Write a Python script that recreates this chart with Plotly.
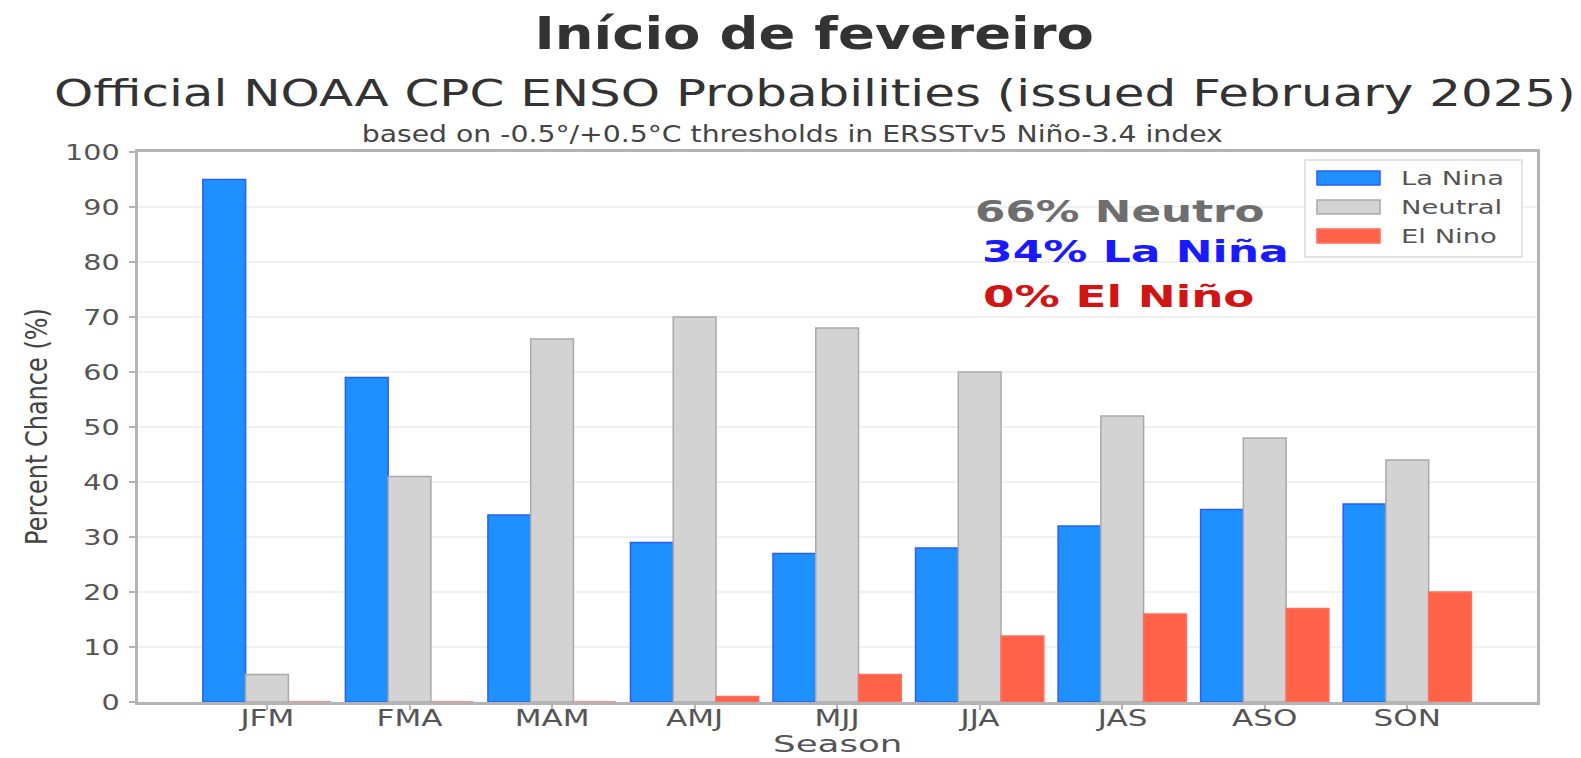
import json
import plotly.graph_objects as go

seasons = ["JFM", "FMA", "MAM", "AMJ", "MJJ", "JJA", "JAS", "ASO", "SON"]
la_nina = [95, 59, 34, 29, 27, 28, 32, 35, 36]
neutral = [5, 41, 66, 70, 68, 60, 52, 48, 44]
el_nino = [0, 0, 0, 1, 5, 12, 16, 17, 20]
series_names = ["La Nina", "Neutral", "El Nino"]
y_ticks = [0, 10, 20, 30, 40, 50, 60, 70, 80, 90, 100]

title_main = "Início de fevereiro"
title_sub = "Official NOAA CPC ENSO Probabilities (issued February 2025)"
title_note = "based on -0.5°/+0.5°C thresholds in ERSSTv5 Niño-3.4 index"
x_title = "Season"
y_title = "Percent Chance (%)"
summary = ["66% Neutro", "34% La Niña", "0% El Niño"]

fills = ["#1E90FF", "#D3D3D3", "#FF6347"]
edges = ["#2a5cff", "#a9a9a9", "#ff6e62"]
summary_colors = ["#6e6e6e", "#1a1aff", "#d01515"]

W, H = 1581, 758
L, R, T, B = 138, 1537, 152, 702
PW, PH = R - L, B - T


def px(x):
    return (x - L) / PW


def py(y):
    return (B - y) / PH


fig = go.Figure()
for name, vals, fc, ec in zip(series_names, [la_nina, neutral, el_nino], fills, edges):
    fig.add_trace(go.Bar(
        x=seasons, y=vals, name=name,
        marker=dict(color=fc, line=dict(color=ec, width=1.5)),
        showlegend=False,
    ))

font = "DejaVu Sans"
ann = []
stretch = []  # (factor, mode) per annotation, applied to text after render


def add_ann(text, x, y, size, color, xanchor="center", s=1.0, mode="c", angle=0):
    ann.append(dict(text=text, x=px(x), y=py(y), xref="paper", yref="paper",
                    showarrow=False, xanchor=xanchor, yanchor="middle", textangle=angle,
                    font=dict(family=font, size=size, color=color)))
    stretch.append([s, mode])


add_ann("<b>" + title_main + "</b>", 814, 33.5, 45, "#333333", s=1.21)
add_ann(title_sub, 815, 93.5, 37, "#333333", s=1.35)
add_ann(title_note, 792, 134, 23, "#444444", s=1.23)
add_ann(x_title, 837, 744, 23, "#555555", s=1.55)
add_ann(y_title, 37, 427, 24, "#444444", s=1.25, mode="v", angle=-90)
for txt, col, xx, yy, s in zip(summary, summary_colors, [973, 980, 981], [211, 251, 296],
                               [1.41, 1.42, 1.46]):
    add_ann("<b>" + txt + "</b>", xx, yy, 31, col, xanchor="left", s=s, mode="l")

shapes = []
shapes.append(dict(type="rect", xref="paper", yref="paper", x0=px(1305), x1=px(1522),
                   y0=py(257), y1=py(160), fillcolor="white",
                   line=dict(color="#dcdcdc", width=1.5), layer="above"))
for name, fc, ec, yy in zip(series_names, fills, edges, [178, 207, 236]):
    shapes.append(dict(type="rect", xref="paper", yref="paper", x0=px(1317), x1=px(1380),
                       y0=py(yy + 7), y1=py(yy - 7), fillcolor=fc,
                       line=dict(color=ec, width=1.5), layer="above"))
    add_ann(name, 1399, yy, 20, "#555555", xanchor="left", s=1.37, mode="l")

fig.update_layout(
    width=W, height=H,
    margin=dict(l=L, r=W - R, t=T, b=H - B, autoexpand=False),
    paper_bgcolor="white", plot_bgcolor="white",
    barmode="group", bargap=0.1, bargroupgap=0,
    annotations=ann, shapes=shapes,
    font=dict(family=font, color="#555555"),
)
fig.update_xaxes(
    range=[-0.905, 8.91], showgrid=False, automargin=False,
    showline=True, mirror=True, linecolor="#b4b4b4", linewidth=3,
    ticks="outside", ticklen=5, tickcolor="#b4b4b4", tickwidth=1.5,
    ticklabelstandoff=-12,
    tickfont=dict(family=font, size=23, color="#555555"),
)
fig.update_yaxes(
    range=[0, 100], tickvals=y_ticks, automargin=False,
    showgrid=True, gridcolor="#f0f0f0", gridwidth=1.5, zeroline=False,
    showline=True, mirror=True, linecolor="#b4b4b4", linewidth=3,
    ticks="outside", ticklen=6, tickcolor="#b4b4b4", tickwidth=1.5,
    ticklabelstandoff=5,
    tickfont=dict(family=font, size=22, color="#555555"),
)

# Page without default body margin, and horizontal widening of text glyphs
# to mimic the reference's stretched lettering.
js = """
document.body.style.margin = '0';
document.body.style.overflow = 'hidden';
var gd = document.getElementById('{plot_id}');
var ANN = %s;
function widen(el, s, mode) {
  if (!el || el.getAttribute('data-w')) return;
  var bb = el.getBBox();
  var t = el.getAttribute('transform') || '';
  var extra;
  if (mode === 'v') {
    var cy = bb.y + bb.height / 2;
    extra = ' translate(0,' + cy + ') scale(1,' + s + ') translate(0,' + (-cy) + ')';
  } else {
    var cx = mode === 'l' ? bb.x : (mode === 'r' ? bb.x + bb.width : bb.x + bb.width / 2);
    extra = ' translate(' + cx + ',0) scale(' + s + ',1) translate(' + (-cx) + ',0)';
  }
  el.setAttribute('transform', t + extra);
  el.setAttribute('data-w', '1');
}
gd.querySelectorAll('g.annotation').forEach(function (g) {
  var i = parseInt(g.getAttribute('data-index'));
  var cfg = ANN[i];
  if (cfg) widen(g.querySelector('text.annotation-text'), cfg[0], cfg[1]);
});
gd.querySelectorAll('g.xtick text').forEach(function (el) { widen(el, 1.35, 'c'); });
gd.querySelectorAll('g.ytick text').forEach(function (el) { widen(el, 1.3, 'r'); });
""" % json.dumps(stretch)

fig.write_html("out.html", post_script=js, config={"displayModeBar": False})
